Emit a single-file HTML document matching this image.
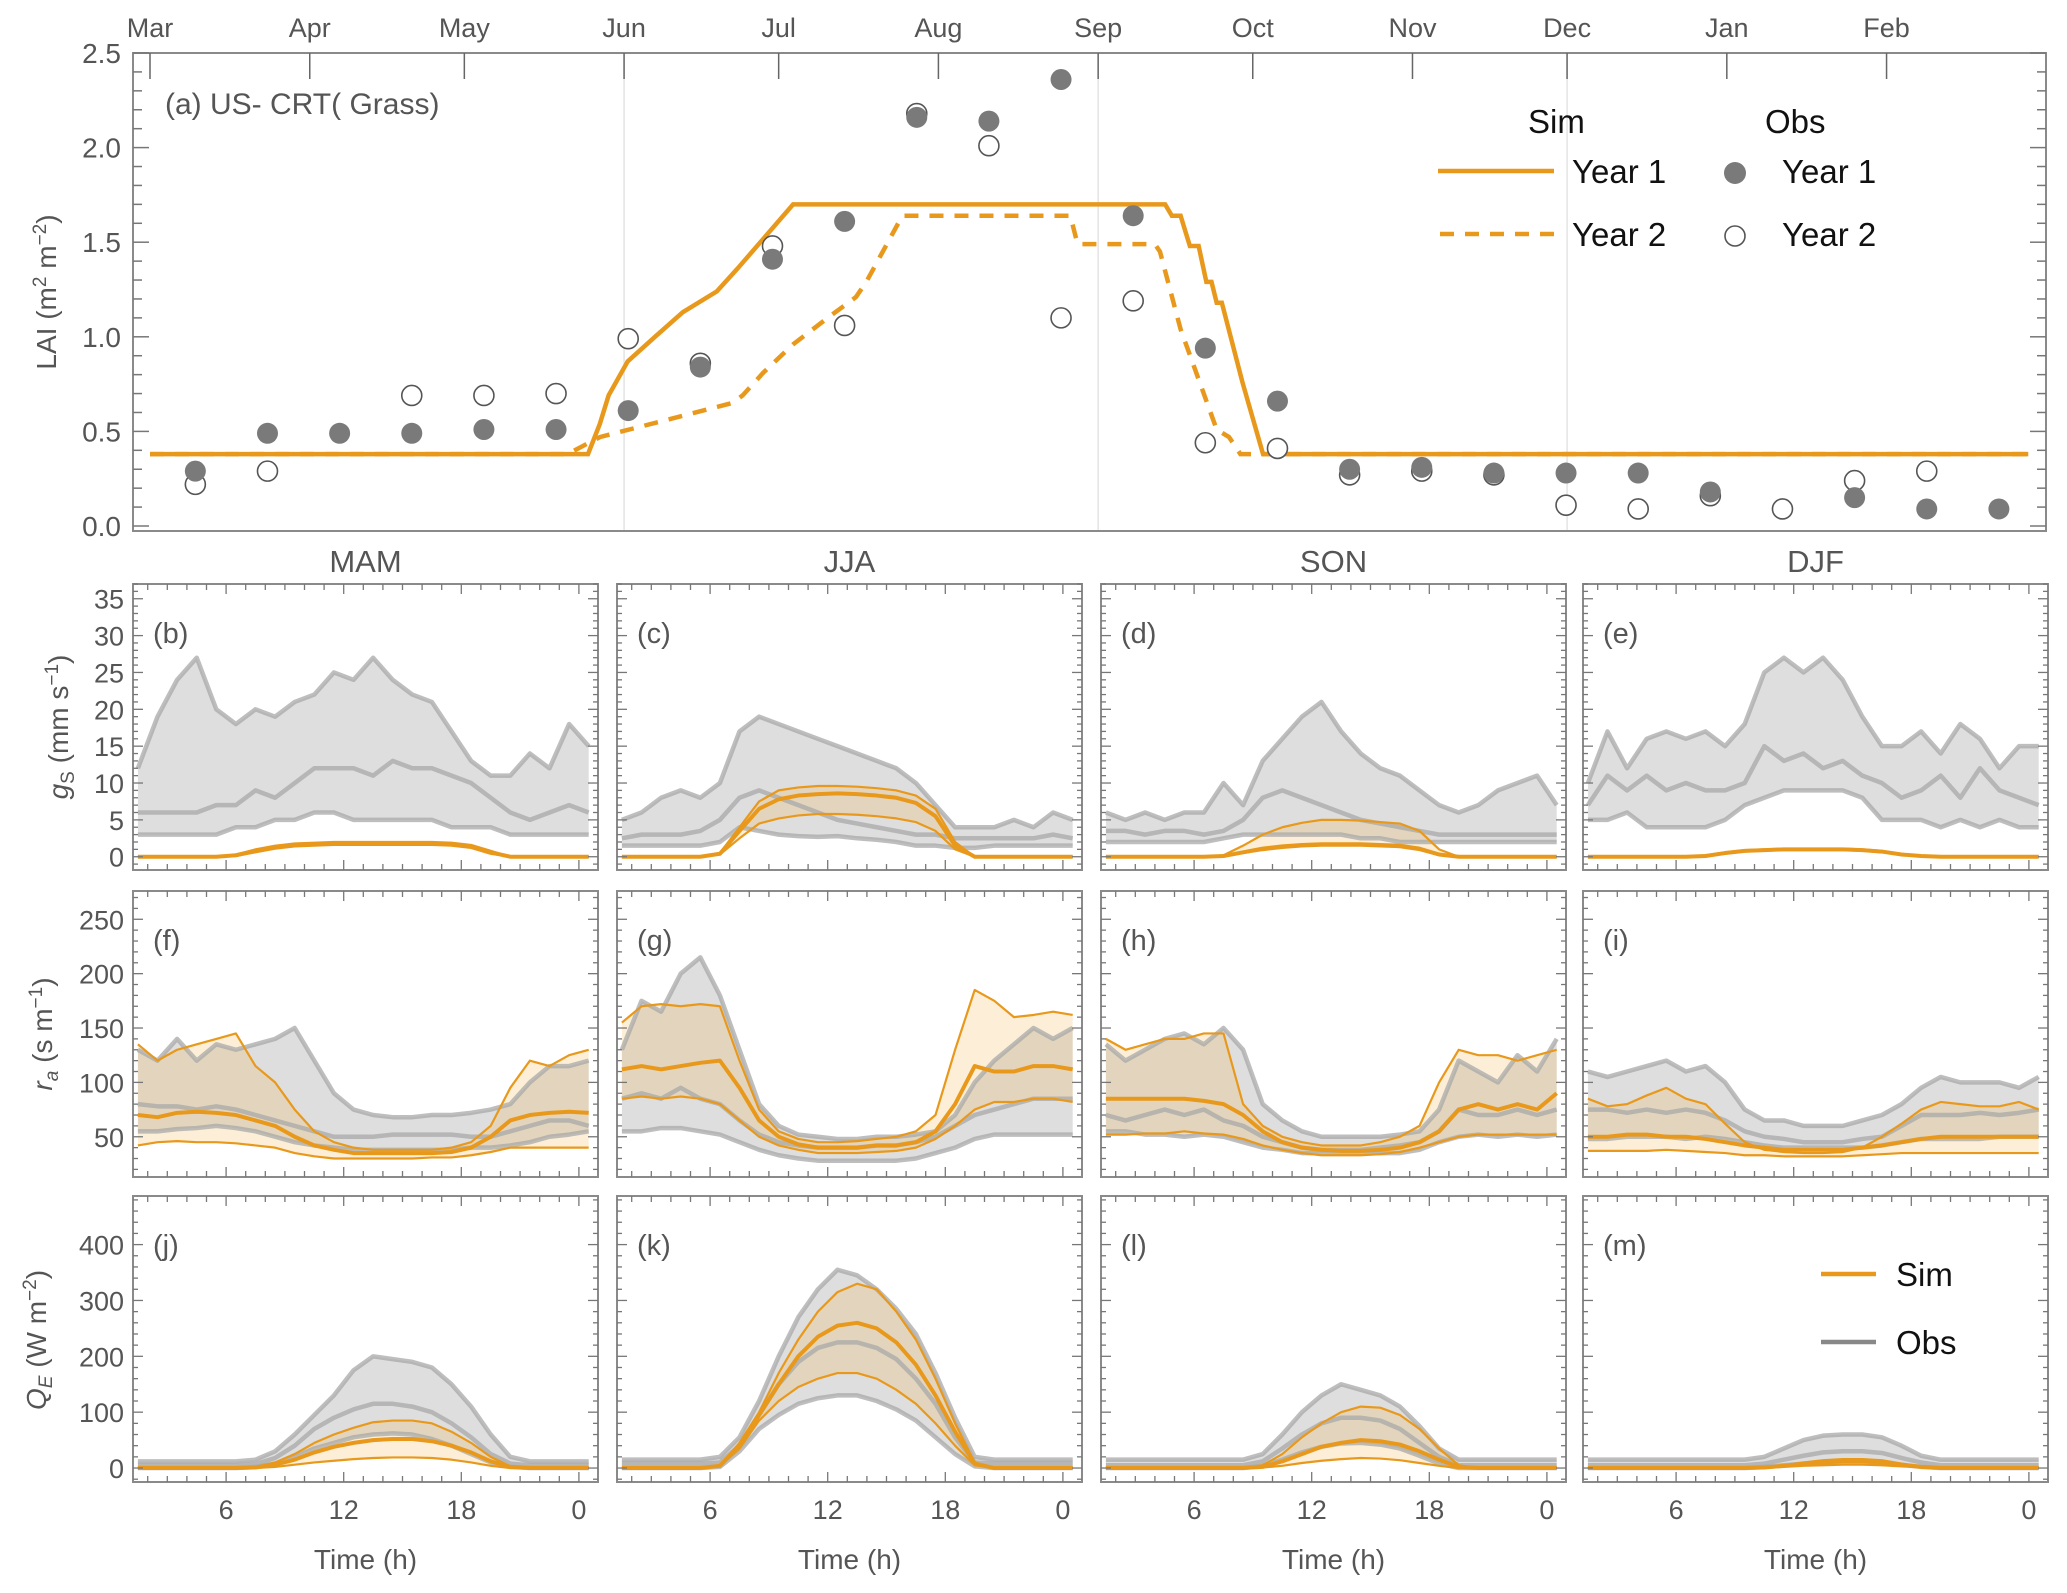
<!DOCTYPE html>
<html><head><meta charset="utf-8"><style>
html,body{margin:0;padding:0;background:#fff;}
svg{display:block;font-family:"Liberation Sans",sans-serif;}
</style></head><body>
<svg id="fig" width="2067" height="1593" viewBox="0 0 2067 1593" xmlns="http://www.w3.org/2000/svg">
<g id="lai"></g>
<g id="lower"></g>
</svg>
<script>
// ---------- LAI data ----------
const monthLabels = ["Mar","Apr","May","Jun","Jul","Aug","Sep","Oct","Nov","Dec","Jan","Feb"];
const monthDays = [0,31,61,92,122,153,184,214,245,275,306,337];
const laiTicks = [0,0.5,1.0,1.5,2.0,2.5];
const simY1Days = [0,85,87.3,89,92.7,98,103.4,110,114,124.8,197,198.3,200,201.8,203.5,205,206,207,208,212,216,364.5];
const simY1Vals = [0.38,0.38,0.54,0.69,0.87,1.0,1.13,1.24,1.36,1.70,1.70,1.64,1.64,1.48,1.48,1.29,1.29,1.18,1.18,0.76,0.38,0.38];
const simY2Days = [0,81,87.3,113,115,119,124.8,132,137,139,146,178.6,180,195,196,200,207,209.4,211.6,364.5];
const simY2Vals = [0.38,0.38,0.47,0.65,0.69,0.81,0.96,1.11,1.21,1.29,1.64,1.64,1.49,1.49,1.45,1.04,0.51,0.47,0.38,0.38];
const obsDays = [8.8,22.8,36.8,50.8,64.8,78.8,92.8,106.8,120.8,134.8,148.8,162.8,176.8,190.8,204.8,218.8,232.8,246.8,260.8,274.8,288.8,302.8,316.8,330.8,344.8,358.8];
const obsY1 = [0.29,0.49,0.49,0.49,0.51,0.51,0.61,0.84,1.41,1.61,2.16,2.14,2.36,1.64,0.94,0.66,0.30,0.31,0.28,0.28,0.28,0.18,null,0.15,0.09,0.09];
const obsY2 = [0.22,0.29,null,0.69,0.69,0.70,0.99,0.86,1.48,1.06,2.18,2.01,1.10,1.19,0.44,0.41,0.27,0.29,0.27,0.11,0.09,0.16,0.09,0.24,0.29,null];

// ---------- Diurnal data (hours 1.5 .. 24.5) ----------
const hours = [1.5,2.5,3.5,4.5,5.5,6.5,7.5,8.5,9.5,10.5,11.5,12.5,13.5,14.5,15.5,16.5,17.5,18.5,19.5,20.5,21.5,22.5,23.5,24.5];
const seasons = ["MAM","JJA","SON","DJF"];
const hourTicks = [6,12,18,24];
const hourTickLabels = ["6","12","18","0"];
const gsTicks = [0,5,10,15,20,25,30,35];
const raTicks = [50,100,150,200,250];
const qeTicks = [0,100,200,300,400];

// gs
const gsObsUpMAM = [12,19,24,27,20,18,20,19,21,22,25,24,27,24,22,21,17,13,11,11,14,12,18,15];
const gsObsMedMAM = [6,6,6,6,7,7,9,8,10,12,12,12,11,13,12,12,11,10,8,6,5,6,7,6];
const gsObsLoMAM = [3,3,3,3,3,4,4,5,5,6,6,5,5,5,5,5,4,4,4,3,3,3,3,3];
const gsSimUpMAM = [0,0,0,0,0,0.3,1,1.5,1.8,1.9,2,2,2,2,2,2,1.9,1.6,0.8,0,0,0,0,0];
const gsSimMedMAM = [0,0,0,0,0,0.2,0.8,1.3,1.6,1.7,1.8,1.8,1.8,1.8,1.8,1.8,1.7,1.4,0.6,0,0,0,0,0];
const gsSimLoMAM = [0,0,0,0,0,0.1,0.6,1.1,1.4,1.5,1.6,1.6,1.6,1.6,1.6,1.6,1.5,1.2,0.4,0,0,0,0,0];
const gsObsUpJJA = [5,6,8,9,8,10,17,19,18,17,16,15,14,13,12,10,7,4,4,4,5,4,6,5];
const gsObsMedJJA = [2.5,3,3,3,3.5,5,8,9,8,7,6,5,4.5,4,3.5,3,3,2.5,2.5,2.5,2.5,2.5,3,2.5];
const gsObsLoJJA = [1.5,1.5,1.5,1.5,1.5,2,4,3.5,3,2.8,2.7,2.8,2.5,2.3,2,1.5,1.5,1.2,1.2,1.5,1.5,1.5,1.5,1.5];
const gsSimUpJJA = [0,0,0,0,0,0.5,4,7.5,9,9.4,9.6,9.6,9.5,9.3,9,8.3,6.5,2,0,0,0,0,0,0];
const gsSimMedJJA = [0,0,0,0,0,0.4,3.5,6.5,7.8,8.3,8.5,8.6,8.5,8.3,8,7.3,5.5,1.5,0,0,0,0,0,0];
const gsSimLoJJA = [0,0,0,0,0,0.3,2.5,4.5,5.2,5.6,5.8,5.8,5.7,5.5,5.2,4.7,3.5,1,0,0,0,0,0,0];
const gsObsUpSON = [6,5,6,5,6,6,10,7,13,16,19,21,17,14,12,11,9,7,6,7,9,10,11,7];
const gsObsMedSON = [3.5,3.5,3,3.5,3.5,3,3.5,5,8,9,8,7,6,5,4.5,4,3.5,3,3,3,3,3,3,3];
const gsObsLoSON = [2,2,2,2,2,2,2.5,3,3,3,3,3,3,2.5,2.5,2,2,2,2,2,2,2,2,2];
const gsSimUpSON = [0,0,0,0,0,0,0.2,1.5,3,4,4.6,5,5,4.9,4.7,4.5,3.5,1,0,0,0,0,0,0];
const gsSimMedSON = [0,0,0,0,0,0,0.1,0.6,1.1,1.4,1.6,1.7,1.7,1.7,1.6,1.5,1.1,0.3,0,0,0,0,0,0];
const gsSimLoSON = [0,0,0,0,0,0,0.1,0.5,0.9,1.2,1.4,1.5,1.5,1.5,1.4,1.3,0.9,0.2,0,0,0,0,0,0];
const gsObsUpDJF = [10,17,12,16,17,16,17,15,18,25,27,25,27,24,19,15,15,17,14,18,16,12,15,15];
const gsObsMedDJF = [7,11,9,11,9,10,9,9,10,15,13,14,12,13,11,10,8,9,11,8,12,9,8,7];
const gsObsLoDJF = [5,5,6,4,4,4,4,5,7,8,9,9,9,9,8,5,5,5,4,5,4,5,4,4];
const gsSimUpDJF = [0,0,0,0,0,0,0.2,0.6,0.9,1,1.1,1.1,1.1,1.1,1,0.8,0.4,0.1,0,0,0,0,0,0];
const gsSimMedDJF = [0,0,0,0,0,0,0.1,0.5,0.8,0.9,1,1,1,1,0.9,0.7,0.3,0.1,0,0,0,0,0,0];
const gsSimLoDJF = [0,0,0,0,0,0,0.1,0.4,0.7,0.8,0.9,0.9,0.9,0.9,0.8,0.6,0.3,0.1,0,0,0,0,0,0];
// ra
const raObsUpMAM = [130,120,140,120,135,130,135,140,150,120,90,75,70,68,68,70,70,72,75,80,100,115,115,120];
const raObsMedMAM = [80,78,78,75,78,75,70,65,60,55,50,50,50,52,52,52,52,50,50,55,60,65,65,60];
const raObsLoMAM = [55,55,57,58,60,58,55,50,45,42,40,38,38,38,38,38,38,40,40,42,45,50,52,55];
const raSimUpMAM = [135,120,130,135,140,145,115,100,75,55,45,40,38,38,38,38,40,45,60,95,120,115,125,130];
const raSimMedMAM = [70,68,72,73,72,70,65,60,50,42,38,35,35,35,35,35,36,40,50,65,70,72,73,72];
const raSimLoMAM = [42,45,46,45,45,44,42,40,35,32,30,30,30,30,30,31,31,33,36,40,40,40,40,40];
const raObsUpJJA = [130,175,165,200,215,180,130,80,60,52,50,48,48,50,50,52,55,70,100,120,135,150,140,150];
const raObsMedJJA = [85,90,85,95,85,80,65,52,45,42,40,40,40,42,42,45,50,60,70,75,80,85,85,85];
const raObsLoJJA = [55,55,58,58,55,52,45,38,33,30,28,28,28,28,28,30,35,40,48,52,52,52,52,52];
const raSimUpJJA = [155,170,172,170,172,170,120,75,55,48,45,45,46,48,50,55,70,130,185,175,160,162,165,162];
const raSimMedJJA = [112,115,112,115,118,120,95,65,50,43,40,40,40,42,42,45,55,80,115,110,110,115,115,112];
const raSimLoJJA = [85,87,85,87,85,80,65,50,42,38,35,35,35,36,37,40,48,60,75,82,82,85,85,82];
const raObsUpSON = [135,120,130,140,145,135,150,130,80,65,55,50,50,50,50,52,55,75,120,110,100,125,110,140];
const raObsMedSON = [70,65,70,75,70,75,65,60,50,45,40,38,38,38,40,42,45,55,75,70,70,75,70,75];
const raObsLoSON = [55,55,52,52,50,52,50,45,40,38,35,35,35,35,35,35,38,45,50,52,50,52,50,52];
const raSimUpSON = [140,130,135,140,140,145,145,80,60,50,45,42,42,42,45,50,60,100,130,125,125,120,125,130];
const raSimMedSON = [85,85,85,85,85,83,80,70,55,45,40,38,37,37,38,40,45,55,75,80,75,80,75,90];
const raSimLoSON = [52,52,53,53,55,53,52,48,42,38,35,33,33,33,34,36,40,45,50,52,52,52,52,52];
const raObsUpDJF = [110,105,110,115,120,110,115,100,75,65,65,60,60,60,65,70,80,95,105,100,100,100,95,105];
const raObsMedDJF = [75,75,72,75,72,75,72,65,55,50,48,45,45,45,48,50,60,70,70,70,72,70,72,75];
const raObsLoDJF = [48,48,50,50,50,48,50,48,45,42,40,40,40,40,40,42,45,48,48,48,48,50,50,50];
const raSimUpDJF = [85,78,80,88,95,85,80,62,45,38,36,35,35,36,40,50,62,75,82,80,78,78,82,75];
const raSimMedDJF = [50,50,52,52,50,50,48,45,42,40,38,38,38,38,40,42,45,48,50,50,50,50,50,50];
const raSimLoDJF = [37,37,37,37,38,37,36,35,33,33,32,32,32,32,33,34,35,35,35,35,35,35,35,35];
// QE
const qeObsUpMAM = [12,12,12,12,12,12,15,30,60,95,130,175,200,195,190,180,150,110,60,20,12,12,12,12];
const qeObsMedMAM = [5,5,5,5,5,5,7,18,40,70,90,105,115,115,110,100,80,55,25,8,5,5,5,5];
const qeObsLoMAM = [0,0,0,0,0,0,2,8,20,35,45,55,60,62,60,52,40,25,10,2,0,0,0,0];
const qeSimUpMAM = [0,0,0,0,0,0,2,10,25,45,60,72,82,85,85,80,65,45,20,3,0,0,0,0];
const qeSimMedMAM = [0,0,0,0,0,0,1,6,15,28,38,45,50,52,52,48,40,28,12,2,0,0,0,0];
const qeSimLoMAM = [0,0,0,0,0,0,0,2,6,10,13,16,18,19,19,18,15,10,4,0,0,0,0,0];
const qeObsUpJJA = [15,15,15,15,15,20,55,120,200,270,320,355,345,320,285,240,170,90,20,15,15,15,15,15];
const qeObsMedJJA = [8,8,8,8,8,10,40,95,150,190,215,225,225,215,195,160,115,55,10,8,8,8,8,8];
const qeObsLoJJA = [0,0,0,0,0,2,30,70,95,115,125,130,130,120,105,85,55,25,3,0,0,0,0,0];
const qeSimUpJJA = [0,0,0,0,0,5,45,100,170,230,280,315,330,320,280,230,160,80,10,0,0,0,0,0];
const qeSimMedJJA = [0,0,0,0,0,4,40,95,150,200,235,255,260,250,225,185,130,65,8,0,0,0,0,0];
const qeSimLoJJA = [0,0,0,0,0,3,35,85,120,145,160,170,170,160,140,115,80,40,5,0,0,0,0,0];
const qeObsUpSON = [15,15,15,15,15,15,15,15,25,60,100,130,150,140,130,110,75,35,15,15,15,15,15,15];
const qeObsMedSON = [5,5,5,5,5,5,5,5,12,35,60,80,90,90,85,70,45,20,5,5,5,5,5,5];
const qeObsLoSON = [0,0,0,0,0,0,0,0,4,15,28,38,44,45,42,35,22,8,0,0,0,0,0,0];
const qeSimUpSON = [0,0,0,0,0,0,0,0,5,25,55,80,100,110,108,95,70,35,5,0,0,0,0,0];
const qeSimMedSON = [0,0,0,0,0,0,0,0,2,12,25,38,45,50,48,42,30,15,2,0,0,0,0,0];
const qeSimLoSON = [0,0,0,0,0,0,0,0,1,4,9,13,16,18,17,14,9,4,0,0,0,0,0,0];
const qeObsUpDJF = [15,15,15,15,15,15,15,15,15,20,35,50,58,60,60,55,40,22,15,15,15,15,15,15];
const qeObsMedDJF = [5,5,5,5,5,5,5,5,5,8,15,22,28,30,30,27,18,10,5,5,5,5,5,5];
const qeObsLoDJF = [0,0,0,0,0,0,0,0,0,2,5,8,10,12,12,10,6,2,0,0,0,0,0,0];
const qeSimUpDJF = [0,0,0,0,0,0,0,0,0,1,5,10,14,16,16,14,8,3,0,0,0,0,0,0];
const qeSimMedDJF = [0,0,0,0,0,0,0,0,0,1,4,7,10,12,12,10,6,2,0,0,0,0,0,0];
const qeSimLoDJF = [0,0,0,0,0,0,0,0,0,0,2,4,5,6,6,5,3,1,0,0,0,0,0,0];

const NS = "http://www.w3.org/2000/svg";
function mk(tag, attrs, parent){
  const e = document.createElementNS(NS, tag);
  for (const k in attrs) e.setAttribute(k, attrs[k]);
  parent.appendChild(e); return e;
}
const ORANGE = "#e8991c";

// ---------- LAI panel ----------
(function(){
  const g = document.getElementById("lai");
  const L=133,R=2046,T=53,B=531;
  const xD = d => 150 + 5.153*d;
  const yV = v => 526 - 189.2*v;
  [92,184,275].forEach(d=>{
    const l = mk("line",{x1:xD(d),x2:xD(d),y1:T,y2:B,stroke:"#e4e4e4","stroke-width":1.5},g);
    
    
  });
  const fr = mk("rect",{x:L,y:T,width:R-L,height:B-T,fill:"none",stroke:"#8a8a8a","stroke-width":2},g);
  
  
  for(let i=0;i<=25;i++){
    const v=i/10, y=yV(v), len=(i%5===0)?16:9;
    mk("line",{x1:L,x2:L+len,y1:y,y2:y,stroke:"#777","stroke-width":1.5},g);
    mk("line",{x1:R,x2:R-len,y1:y,y2:y,stroke:"#777","stroke-width":1.5},g);
  }
  laiTicks.forEach(v=>{
    const t = mk("text",{x:121,y:yV(v)+10,"text-anchor":"end","font-size":28,fill:"#555"},g);
    t.textContent = v.toFixed(1);
    
    
  });
  monthDays.forEach((d,i)=>{
    mk("line",{x1:xD(d),x2:xD(d),y1:T,y2:T+26,stroke:"#666","stroke-width":1.5},g);
    const t = mk("text",{x:xD(d),y:37,"text-anchor":"middle","font-size":27,fill:"#555"},g);
    t.textContent = monthLabels[i];
    
    
  });
  const yl = mk("text",{transform:"translate(56,292) rotate(-90)","text-anchor":"middle","font-size":28,fill:"#555"},g);
  yl.innerHTML = 'LAI (m<tspan dy="-10" font-size="19">2</tspan><tspan dy="10"> m</tspan><tspan dy="-10" font-size="19">−2</tspan><tspan dy="10">)</tspan>';
  
  
  const ttl = mk("text",{x:165,y:114,"font-size":30,fill:"#555"},g);
  ttl.textContent = "(a) US- CRT( Grass)";
  
  
  const p2 = mk("polyline",{points:simY2Days.map((d,i)=>xD(d)+","+yV(simY2Vals[i])).join(" "),fill:"none",stroke:ORANGE,"stroke-width":4.5,"stroke-dasharray":"14 11"},g);
  
  
  const p1 = mk("polyline",{points:simY1Days.map((d,i)=>xD(d)+","+yV(simY1Vals[i])).join(" "),fill:"none",stroke:ORANGE,"stroke-width":4.5},g);
  
  
  obsDays.forEach((d,i)=>{
    if(obsY2[i]!==null){
      const c = mk("circle",{cx:xD(d),cy:yV(obsY2[i]),r:10,fill:"#fff",stroke:"#555","stroke-width":1.6},g);
      
      
    }
  });
  obsDays.forEach((d,i)=>{
    if(obsY1[i]!==null){
      const c = mk("circle",{cx:xD(d),cy:yV(obsY1[i]),r:10.5,fill:"#7a7a7a"},g);
      
      
    }
  });
  const lg = mk("g",{},g);
  
  
  const txt=(x,y,s,nm)=>{const t=mk("text",{x:x,y:y,"font-size":33,fill:"#111"},lg);t.textContent=s;};
  txt(1528,133,"Sim","legend-sim-header");
  txt(1765,133,"Obs","legend-obs-header");
  mk("line",{x1:1438,x2:1554,y1:171,y2:171,stroke:ORANGE,"stroke-width":4.5},lg);
  mk("line",{x1:1440,x2:1554,y1:234,y2:234,stroke:ORANGE,"stroke-width":4.5,"stroke-dasharray":"14 11"},lg);
  txt(1572,183,"Year 1","legend-sim-year1");
  txt(1572,246,"Year 2","legend-sim-year2");
  mk("circle",{cx:1735,cy:173,r:11,fill:"#7a7a7a"},lg);
  mk("circle",{cx:1735,cy:236,r:10,fill:"#fff",stroke:"#555","stroke-width":1.6},lg);
  txt(1782,183,"Year 1","legend-obs-year1");
  txt(1782,246,"Year 2","legend-obs-year2");
})();

// ---------- Diurnal panels ----------
(function(){
  const g = document.getElementById("lower");
  const colL=[133,617,1101,1583], W=465;
  const rowT=[584,891,1196], H=286;
  const doms=[[-1.8,37],[13,276],[-25,487]];
  const tickSets=[gsTicks,raTicks,qeTicks];
  const minorStep=[1,10,20];
  const letters=[["b","c","d","e"],["f","g","h","i"],["j","k","l","m"]];
  const vars=["gs","ra","qe"];
  const data = {
    gs:[[gsObsUpMAM,gsObsMedMAM,gsObsLoMAM,gsSimUpMAM,gsSimMedMAM,gsSimLoMAM],[gsObsUpJJA,gsObsMedJJA,gsObsLoJJA,gsSimUpJJA,gsSimMedJJA,gsSimLoJJA],[gsObsUpSON,gsObsMedSON,gsObsLoSON,gsSimUpSON,gsSimMedSON,gsSimLoSON],[gsObsUpDJF,gsObsMedDJF,gsObsLoDJF,gsSimUpDJF,gsSimMedDJF,gsSimLoDJF]],
    ra:[[raObsUpMAM,raObsMedMAM,raObsLoMAM,raSimUpMAM,raSimMedMAM,raSimLoMAM],[raObsUpJJA,raObsMedJJA,raObsLoJJA,raSimUpJJA,raSimMedJJA,raSimLoJJA],[raObsUpSON,raObsMedSON,raObsLoSON,raSimUpSON,raSimMedSON,raSimLoSON],[raObsUpDJF,raObsMedDJF,raObsLoDJF,raSimUpDJF,raSimMedDJF,raSimLoDJF]],
    qe:[[qeObsUpMAM,qeObsMedMAM,qeObsLoMAM,qeSimUpMAM,qeSimMedMAM,qeSimLoMAM],[qeObsUpJJA,qeObsMedJJA,qeObsLoJJA,qeSimUpJJA,qeSimMedJJA,qeSimLoJJA],[qeObsUpSON,qeObsMedSON,qeObsLoSON,qeSimUpSON,qeSimMedSON,qeSimLoSON],[qeObsUpDJF,qeObsMedDJF,qeObsLoDJF,qeSimUpDJF,qeSimMedDJF,qeSimLoDJF]]
  };
  seasons.forEach((s,c)=>{
    const t = mk("text",{x:colL[c]+W/2,y:572,"text-anchor":"middle","font-size":31,fill:"#555"},g);
    t.textContent = s;
    
    
    const tl = mk("text",{x:colL[c]+W/2,y:1569,"text-anchor":"middle","font-size":28,fill:"#555"},g);
    tl.textContent = "Time (h)";
    
    
  });
  for(let r=0;r<3;r++){
    const [d0,d1]=doms[r];
    const T=rowT[r];
    const yS = v => T + H*(d1-v)/(d1-d0);
    for(let c=0;c<4;c++){
      const L=colL[c];
      const xS = h => L + (h-1.25)*19.6;
      const pg = mk("g",{},g);
      
      
      const clipId="clip"+r+c;
      const cp = mk("clipPath",{id:clipId},pg);
      mk("rect",{x:L,y:T,width:W,height:H},cp);
      const plot = mk("g",{"clip-path":"url(#"+clipId+")"},pg);
      const [oU,oM,oLo,sU,sM,sLo] = data[vars[r]][c];
      const band=(up,lo)=> hours.map((h,i)=>xS(h)+","+yS(up[i])).join(" ")+" "+hours.slice().reverse().map((h,j)=>xS(h)+","+yS(lo[hours.length-1-j])).join(" ");
      const line=(arr)=> hours.map((h,i)=>xS(h)+","+yS(arr[i])).join(" ");
      const ob = mk("polygon",{points:band(oU,oLo),fill:"#c8c8c8","fill-opacity":0.6},plot);
      
      
      const sb = mk("polygon",{points:band(sU,sLo),fill:"#f5b64a","fill-opacity":0.22},plot);
      
      
      [oU,oM,oLo].forEach((a,k)=>{
        const p = mk("polyline",{points:line(a),fill:"none",stroke:"#a8a8a8","stroke-opacity":0.75,"stroke-width":4.5,"stroke-linejoin":"round"},plot);
        
        
      });
      [sU,sM,sLo].forEach((a,k)=>{
        const p = mk("polyline",{points:line(a),fill:"none",stroke:ORANGE,"stroke-width":k===1?4:2.2,"stroke-linejoin":"round"},plot);
        
        
      });
      const fr = mk("rect",{x:L,y:T,width:W,height:H,fill:"none",stroke:"#8a8a8a","stroke-width":2},pg);
      
      
      for(let h=2; h<=24; h++){
        const x=xS(h), len=(h%6===0)?10:6;
        mk("line",{x1:x,x2:x,y1:T+H,y2:T+H-len,stroke:"#777","stroke-width":1.3},pg);
        mk("line",{x1:x,x2:x,y1:T,y2:T+len,stroke:"#777","stroke-width":1.3},pg);
      }
      for(let v=Math.ceil(d0/minorStep[r])*minorStep[r]; v<=d1; v+=minorStep[r]){
        const y=yS(v), major = tickSets[r].includes(v) || (r===1 && v%50===0);
        const len = major?10:5;
        mk("line",{x1:L,x2:L+len,y1:y,y2:y,stroke:"#777","stroke-width":1.3},pg);
        mk("line",{x1:L+W,x2:L+W-len,y1:y,y2:y,stroke:"#777","stroke-width":1.3},pg);
      }
      const lab = mk("text",{x:L+20,y:T+59,"font-size":29,fill:"#555"},pg);
      lab.textContent = "("+letters[r][c]+")";
      
      
      if(c===0){
        tickSets[r].forEach(v=>{
          const t = mk("text",{x:L-9,y:yS(v)+10,"text-anchor":"end","font-size":27,fill:"#555"},pg);
          t.textContent = v;
          
          
        });
      }
      if(r===2){
        hourTicks.forEach((h,i)=>{
          const t = mk("text",{x:xS(h),y:1519,"text-anchor":"middle","font-size":27,fill:"#555"},pg);
          t.textContent = hourTickLabels[i];
          
          
        });
      }
    }
  }
  const yt1 = mk("text",{transform:"translate(68,727) rotate(-90)","text-anchor":"middle","font-size":28,fill:"#555"},g);
  yt1.innerHTML = '<tspan font-style="italic">g</tspan><tspan font-size="19" dy="6">S</tspan><tspan dy="-6"> (mm s</tspan><tspan font-size="19" dy="-10">−1</tspan><tspan dy="10">)</tspan>';
  
  
  const yt2 = mk("text",{transform:"translate(52,1034) rotate(-90)","text-anchor":"middle","font-size":28,fill:"#555"},g);
  yt2.innerHTML = '<tspan font-style="italic">r</tspan><tspan font-size="19" dy="6" font-style="italic">a</tspan><tspan dy="-6"> (s m</tspan><tspan font-size="19" dy="-10">−1</tspan><tspan dy="10">)</tspan>';
  
  
  const yt3 = mk("text",{transform:"translate(46,1340) rotate(-90)","text-anchor":"middle","font-size":28,fill:"#555"},g);
  yt3.innerHTML = '<tspan font-style="italic">Q</tspan><tspan font-size="19" dy="6" font-style="italic">E</tspan><tspan dy="-6"> (W m</tspan><tspan font-size="19" dy="-10">−2</tspan><tspan dy="10">)</tspan>';
  
  
  const lg = mk("g",{},g);
  
  
  mk("line",{x1:1821,x2:1876,y1:1274,y2:1274,stroke:ORANGE,"stroke-width":4.5},lg);
  mk("line",{x1:1821,x2:1876,y1:1342,y2:1342,stroke:"#888","stroke-width":4.5},lg);
  const s1 = mk("text",{x:1896,y:1286,"font-size":33,fill:"#111"},lg);
  s1.textContent="Sim";
  
  
  const s2 = mk("text",{x:1896,y:1354,"font-size":33,fill:"#111"},lg);
  s2.textContent="Obs";
  
  
})();
</script>
</body></html>
